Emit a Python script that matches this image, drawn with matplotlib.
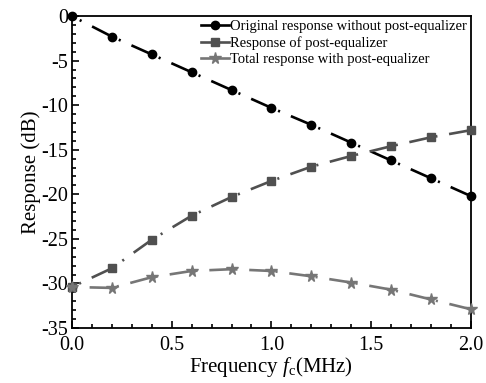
import numpy as np
import matplotlib.pyplot as plt
from matplotlib.lines import Line2D
from matplotlib.ticker import MultipleLocator

plt.rcParams['font.family'] = ['Liberation Serif', 'DejaVu Serif']
plt.rcParams['mathtext.fontset'] = 'custom'
plt.rcParams['mathtext.rm'] = 'Liberation Serif'
plt.rcParams['mathtext.it'] = 'Liberation Serif:italic'
plt.rcParams['lines.scale_dashes'] = False

freq = [0.0, 0.2, 0.4, 0.6, 0.8, 1.0, 1.2, 1.4, 1.6, 1.8, 2.0]
original = [0.0, -2.3, -4.3, -6.3, -8.3, -10.3, -12.2, -14.2, -16.2, -18.2, -20.2]
post_eq = [-30.4, -28.3, -25.1, -22.4, -20.3, -18.5, -16.9, -15.7, -14.6, -13.6, -12.8]
total = [-30.4, -30.5, -29.3, -28.6, -28.4, -28.6, -29.2, -29.9, -30.7, -31.8, -32.9]

labels = ['Original response without post-equalizer',
          'Response of post-equalizer',
          'Total response with post-equalizer']
colors = ['#000000', '#505050', '#767676']
markers = ['o', 's', '*']
msizes = [6, 5.5, 8.5]

fig = plt.figure(figsize=(4.86, 3.83), dpi=100)
ax = fig.add_axes([0.148, 0.1436, 0.821, 0.8144])

# dash pattern: dash ending at next point, gap, small dot after previous point
pattern = (0, (16, 8.5, 1.5, 100))

for ys, c, m, ms in zip([original, post_eq, total], colors, markers, msizes):
    for i in range(len(freq) - 1):
        ax.plot([freq[i + 1], freq[i]], [ys[i + 1], ys[i]], color=c, lw=1.9,
                linestyle=pattern, dash_capstyle='butt', clip_on=False)
    ax.plot(freq, ys, linestyle='none', marker=m, color=c, markersize=ms,
            clip_on=False, zorder=3)

handles = [Line2D([], [], color=c, lw=1.9, marker=m, markersize=ms)
           for c, m, ms in zip(colors, markers, msizes)]
ax.legend(handles, labels, loc='upper right', frameon=False, fontsize=10.5,
          handlelength=1.9, handletextpad=0.1, labelspacing=0.2,
          borderaxespad=0.15, borderpad=0.1)

ax.set_xlim(0, 2.0)
ax.set_ylim(-35, 0)
ax.xaxis.set_major_locator(MultipleLocator(0.5))
ax.xaxis.set_minor_locator(MultipleLocator(0.1))
ax.yaxis.set_major_locator(MultipleLocator(5))
ax.yaxis.set_minor_locator(MultipleLocator(1))
ax.xaxis.set_major_formatter(plt.FuncFormatter(lambda v, p: '%.1f' % v))
ax.yaxis.set_major_formatter(plt.FuncFormatter(lambda v, p: '%d' % v))
ax.tick_params(which='both', direction='in', top=False, right=False,
               labelsize=14.5, width=1.2)
ax.tick_params(axis='x', pad=6)
ax.tick_params(axis='y', pad=3)
ax.tick_params(which='major', length=5)
ax.tick_params(which='minor', length=3)
for s in ax.spines.values():
    s.set_linewidth(1.3)

ax.set_xlabel('Frequency $f_{\\mathrm{c}}$(MHz)', fontsize=15, labelpad=0)
ax.set_ylabel('Response (dB)', fontsize=15, labelpad=0)

fig.savefig('out.png', dpi=100)
